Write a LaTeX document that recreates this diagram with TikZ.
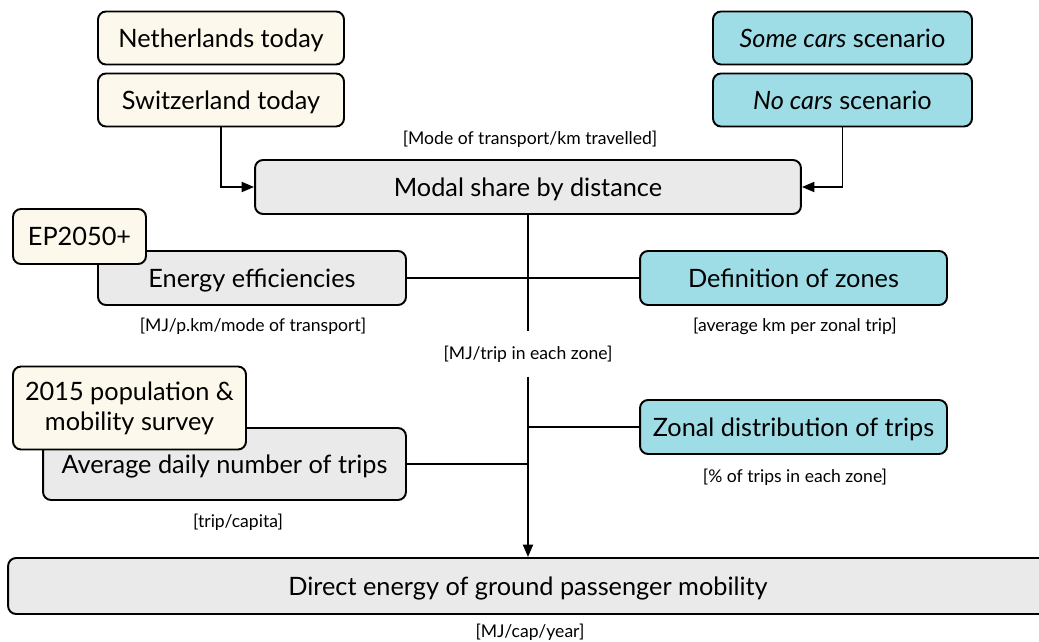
\documentclass[tikz,border=0pt]{standalone}
\usepackage{fontspec}
\setmainfont{Lato}
\usepackage{tikz}
\usetikzlibrary{positioning,calc,arrows.meta}

\definecolor{creamfill}{HTML}{FDF8EC}
\definecolor{greyfill}{HTML}{EAEAEA}
\definecolor{zonefill}{HTML}{9EDCE6}

\tikzset{
	box/.style={draw=black, line width=1.1pt, rounded corners=0.16cm, inner sep=0pt, text height=10.4pt, text depth=0pt, font=\fontsize{14.4}{17}\selectfont},
	srcbox/.style={box, fill=creamfill},
	stepbox/.style={box, fill=greyfill},
	scenbox/.style={box, fill=zonefill},
	unitlabel/.style={inner sep=0pt, font=\fontsize{10}{12}\selectfont},
	link/.style={line width=1.1pt},
	tolink/.style={link, -{Triangle[length=0.25cm,width=0.2cm]}}
}

\begin{document}
\begin{tikzpicture}[x=0.02cm,y=-0.02cm]
		\useasboundingbox (0,0) rectangle (1039,642);
		
		% sources at the top
		\node[srcbox, minimum width=4.92cm, minimum height=1.06cm] (nl) at (221,38) {Netherlands today};
		\node[srcbox, minimum width=4.92cm, minimum height=1.06cm] (ch) at (221,100) {Switzerland today};
		\node[scenbox, minimum width=5.18cm, minimum height=1.06cm] (some) at (842.5,38) {\textit{Some cars} scenario};
		\node[scenbox, minimum width=5.18cm, minimum height=1.06cm] (nocars) at (842.5,100) {\textit{No cars} scenario};
		
		\node[unitlabel] (modalunit) at (530,139) {[Mode of transport/km travelled]};
		\node[stepbox, minimum width=10.92cm, minimum height=1.08cm] (modal) at (528,187) {Modal share by distance};
		
		\draw[tolink] (ch.south) |- (modal.west);
		\draw[tolink] (nocars.south) |- (modal.east);
		
		% efficiencies and zones
		\node[stepbox, minimum width=6.16cm, minimum height=1.08cm] (eneff) at (252,278) {Energy efficiencies};
		\node[srcbox, minimum width=2.66cm, minimum height=1.1cm] (ep) at (79.5,236.5) {EP2050+};
		\node[scenbox, minimum width=6.14cm, minimum height=1.08cm] (zones) at (793.5,278) {Definition of zones};
		\node[unitlabel] (effunit) at (253,326) {[MJ/p.km/mode of transport]};
		\node[unitlabel] (zoneunit) at (795,326) {[average km per zonal trip]};
		
		\draw[link] (eneff.east) -- (zones.west);
		
		\node[unitlabel, minimum height=0.9cm] (tripunit) at (528,354) {[MJ/trip in each zone]};
		\draw[link] (modal.south) -- (tripunit.north);
		
		% trips
		\node[stepbox, minimum width=7.26cm, minimum height=1.44cm] (avgtrips) at (224.5,464) {Average daily number of trips};
		\node[srcbox, text height=, text depth=, align=center, minimum width=4.66cm, minimum height=1.66cm] (survey) at (129.5,408) {2015 population \&\\mobility survey};
		\node[scenbox, minimum width=6.14cm, minimum height=1.08cm] (zonal) at (793.5,427) {Zonal distribution of trips};
		\node[unitlabel] (tripsunit) at (238,522) {[trip/capita]};
		\node[unitlabel] (zonalunit) at (795,477) {[\% of trips in each zone]};
		
		% result
		\node[stepbox, minimum width=20.8cm, minimum height=1.12cm] (direct) at (528,586) {Direct energy of ground passenger mobility};
		\node[unitlabel] (directunit) at (530,632) {[MJ/cap/year]};
		
		\draw[link] (zonal.west) -- (zonal.west -| tripunit.south);
		\draw[link] (avgtrips.east) -- (avgtrips.east -| tripunit.south);
		\draw[tolink] (tripunit.south) -- (direct.north);
\end{tikzpicture}
\end{document}
